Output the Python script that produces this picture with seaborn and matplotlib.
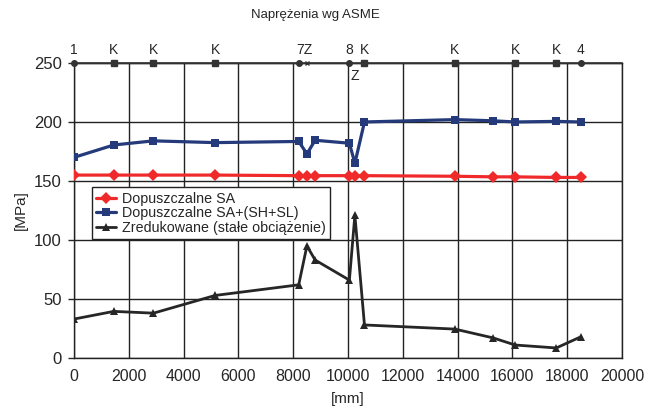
import matplotlib
matplotlib.use("Agg")
import matplotlib.pyplot as plt
import seaborn as sns
import pandas as pd

# położenie punktów wzdłuż rurociągu [mm]
x_mm = [0, 1450, 2900, 5150, 8200, 8500, 8800, 10050, 10250, 10600,
        13900, 15300, 16100, 17600, 18500]

sa = [155, 155, 155, 155, 154.5, 154.5, 154.5, 154.5, 154.5, 154.5,
      154, 153.5, 153.5, 153, 153]
sa_sh_sl = [170, 180.5, 184, 182.5, 183.5, 173, 184.5, 182, 165, 200,
            202, 201, 200, 200.5, 200]
zred = [33, 39.5, 38, 53, 62, 95, 83, 66, 121, 28,
        24.5, 17, 11, 8.5, 18]

# węzły opisane nad wykresem
node_x = [0, 1450, 2900, 5150, 8200, 8500, 10050, 10600, 13900, 16100, 17600, 18500]
node_lbl = ["1", "K", "K", "K", "7Z", "", "8", "K", "K", "K", "K", "4"]
node_mk = ["o", "s", "s", "s", "o", "x", "o", "s", "s", "s", "s", "o"]

sns.set_style("white")
plt.rcParams['font.family'] = ['Liberation Sans', 'DejaVu Sans']

df = pd.DataFrame({"x": x_mm, "sa": sa, "sash": sa_sh_sl, "zr": zred})

fig = plt.figure(figsize=(6.47, 4.17), dpi=100)
ax = fig.add_axes([0.1144, 0.1415, 0.8470, 0.7075])

sns.lineplot(data=df, x="x", y="sa", ax=ax, color="#f02a2a", marker="D",
             markersize=6.5, markeredgewidth=0, linewidth=2.3,
             label="Dopuszczalne SA", zorder=4)
sns.lineplot(data=df, x="x", y="sash", ax=ax, color="#243a7a", marker="s",
             markersize=6, markeredgewidth=0, linewidth=2.3,
             label="Dopuszczalne SA+(SH+SL)", zorder=4)
sns.lineplot(data=df, x="x", y="zr", ax=ax, color="#262626", marker="^",
             markersize=6, markeredgewidth=0, linewidth=2,
             label="Zredukowane (stałe obciążenie)", zorder=4)

# linia węzłów na górze
ax.plot([0, 20000], [250, 250], color="#333333", lw=1.2, clip_on=False, zorder=3)
for xv, lb, mk in zip(node_x, node_lbl, node_mk):
    ax.plot(xv, 250, marker=mk, color="#333333", ms=4 if mk != "x" else 3.5,
            mew=1, clip_on=False, zorder=5)
    if lb == "7Z":
        ax.annotate(lb, (xv + 200, 250), xytext=(0, 4), textcoords="offset points",
                    ha="center", va="bottom", fontsize=10)
    elif lb:
        ax.annotate(lb, (xv, 250), xytext=(0, 4), textcoords="offset points",
                    ha="center", va="bottom", fontsize=10)
ax.annotate("Z", (10250, 250), xytext=(0, -4), textcoords="offset points",
            ha="center", va="top", fontsize=10)

ax.set_xlim(0, 20000)
ax.set_ylim(0, 250)
ax.set_xticks(range(0, 20001, 2000))
ax.set_yticks(range(0, 251, 50))
ax.grid(True, color="#222222", linewidth=1)
ax.set_axisbelow(True)
for s in ax.spines.values():
    s.set_color("#222222")
    s.set_linewidth(1)
ax.tick_params(axis="x", labelsize=11.5, length=0, pad=8)
ax.tick_params(axis="y", labelsize=12, length=4, width=1, left=True, direction="out", pad=5)

ax.set_xlabel("[mm]", fontsize=11, labelpad=6)
ax.set_ylabel("[MPa]", fontsize=11, labelpad=4)
fig.text(0.487, 0.964, "Naprężenia wg ASME", ha="center", va="center", fontsize=9.5)

leg = ax.legend(loc="upper left", bbox_to_anchor=(0.033, 0.578), fontsize=10.3,
                frameon=True, fancybox=False, handlelength=1.4, handletextpad=0.4,
                borderpad=0.3, labelspacing=0.05, borderaxespad=0)
leg.get_frame().set_edgecolor("#222222")
leg.get_frame().set_linewidth(1)
leg.get_frame().set_alpha(1)

fig.savefig("out.png", dpi=100)
